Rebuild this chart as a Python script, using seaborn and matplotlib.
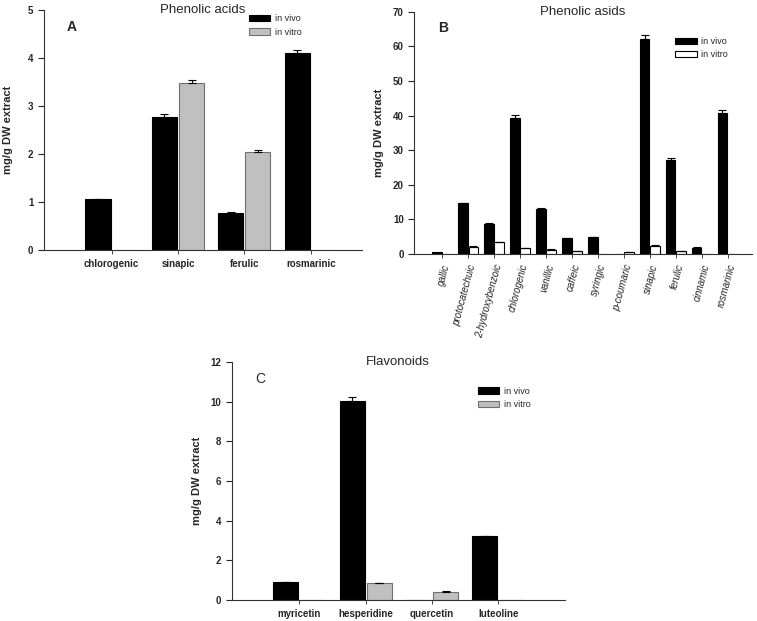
import numpy as np
import pandas as pd
import seaborn as sns
import matplotlib.pyplot as plt

sns.set_style("ticks")
plt.rcParams['font.family'] = ['Liberation Sans', 'DejaVu Sans']

# Panel A - phenolic acids
a_cats = ['chlorogenic', 'sinapic', 'ferulic', 'rosmarinic']
a_vivo = [1.06, 2.78, 0.77, 4.10]
a_vivo_err = [0.01, 0.05, 0.02, 0.06]
a_vitro = [0, 3.48, 2.04, 0]
a_vitro_err = [0, 0.07, 0.04, 0]

# Panel B - phenolic asids
b_cats = ['gallic', 'protocatechuic', '2-hydroxybenzoic', 'chlorogenic', 'vanillic',
          'caffeic', 'syringic', 'p-coumaric', 'sinapic', 'ferulic', 'cinnamic', 'rosmarinic']
b_vivo = [0.7, 14.6, 8.7, 39.4, 13.0, 4.5, 4.8, 0, 62.0, 27.2, 1.8, 40.7]
b_vivo_err = [0, 0.2, 0.2, 0.7, 0.2, 0.1, 0.1, 0, 1.2, 0.6, 0.1, 0.8]
b_vitro = [0, 2.0, 3.5, 1.6, 1.2, 0.9, 0, 0.6, 2.4, 0.9, 0, 0]
b_vitro_err = [0, 0.3, 0.1, 0.1, 0.1, 0.1, 0, 0.1, 0.2, 0.1, 0, 0]

# Panel C - flavonoids
c_cats = ['myricetin', 'hesperidine', 'quercetin', 'luteoline']
c_vivo = [0.89, 10.05, 0, 3.20]
c_vivo_err = [0.01, 0.20, 0, 0.03]
c_vitro = [0, 0.84, 0.42, 0]
c_vitro_err = [0, 0.03, 0.01, 0]


def panel(ax, cats, vivo, vivo_err, vitro, vitro_err, vitro_color, vitro_edge,
          ymax, ystep, title, letter, letter_weight, leg_xy, xlim, rot=False, lpad=6):
    df = pd.DataFrame({'compound': cats * 2,
                       'value': vivo + vitro,
                       'group': ['in vivo'] * len(cats) + ['in vitro'] * len(cats)})
    sns.barplot(data=df, x='compound', y='value', hue='group', ax=ax,
                palette=['black', vitro_color], width=0.82, gap=0.08,
                saturation=1, errorbar=None)
    edges = ['black', vitro_edge]
    for cont, errs, ec in zip(ax.containers, [vivo_err, vitro_err], edges):
        xs, tops = [], []
        for p in cont.patches:
            p.set_edgecolor(ec)
            p.set_linewidth(0.8)
            xs.append(p.get_x() + p.get_width() / 2)
            tops.append(p.get_height())
        errs = np.array(errs)
        m = errs > 0
        ax.errorbar(np.array(xs)[m], np.array(tops)[m],
                    yerr=[np.zeros(m.sum()), errs[m]], fmt='none',
                    ecolor='black', elinewidth=0.8, capsize=3, capthick=0.8)
    ax.set_ylim(0, ymax)
    ax.set_xlim(*xlim)
    ax.set_yticks(np.arange(0, ymax + 0.01, ystep))
    ax.set_xlabel('')
    ax.set_ylabel('mg/g DW extract', fontsize=8, fontweight='bold', labelpad=lpad)
    ax.text(0.5, 1.0, title, transform=ax.transAxes, fontsize=9.5,
            ha='center', va='center')
    ax.text(0.07, 0.96, letter, transform=ax.transAxes, fontsize=10,
            fontweight=letter_weight, va='top')
    sns.despine(ax=ax)
    for s in ['left', 'bottom']:
        ax.spines[s].set_linewidth(0.8)
        ax.spines[s].set_color('#333333')
    ax.tick_params(axis='y', length=4, width=0.8, labelsize=7)
    ax.tick_params(axis='x', length=3, width=0.6, labelsize=7)
    for t in ax.get_yticklabels():
        t.set_fontweight('bold')
    if rot:
        ax.set_xticks(range(len(cats)))
        ax.set_xticklabels(cats, rotation=75, ha='right', rotation_mode='anchor',
                           style='italic', fontsize=7)
    else:
        for t in ax.get_xticklabels():
            t.set_fontweight('bold')
    leg = ax.legend(loc='upper left', bbox_to_anchor=leg_xy, frameon=False,
                    fontsize=6.5, handlelength=2.4, handleheight=0.7,
                    borderpad=0, labelspacing=0.45, handletextpad=0.5)
    for h, ec in zip(leg.legend_handles, edges):
        h.set_edgecolor(ec)
        h.set_linewidth(0.8)


fig = plt.figure(figsize=(7.57, 6.21), dpi=100)
axA = fig.add_axes([0.058, 0.597, 0.420, 0.387])
axB = fig.add_axes([0.547, 0.591, 0.446, 0.390])
axC = fig.add_axes([0.306, 0.034, 0.440, 0.383])

panel(axA, a_cats, a_vivo, a_vivo_err, a_vitro, a_vitro_err, '#c0c0c0', '#707070',
      5, 1, 'Phenolic acids', 'A', 'bold', (0.63, 1.0), (-1.02, 3.77), lpad=11)
panel(axB, b_cats, b_vivo, b_vivo_err, b_vitro, b_vitro_err, 'white', 'black',
      70, 10, 'Phenolic asids', 'B', 'bold', (0.76, 0.915), (-1.08, 11.92), rot=True)
panel(axC, c_cats, c_vivo, c_vivo_err, c_vitro, c_vitro_err, '#c0c0c0', '#707070',
      12, 2, 'Flavonoids', 'C', 'normal', (0.725, 0.915), (-1.02, 4.0))

fig.savefig('out.png', dpi=100)
